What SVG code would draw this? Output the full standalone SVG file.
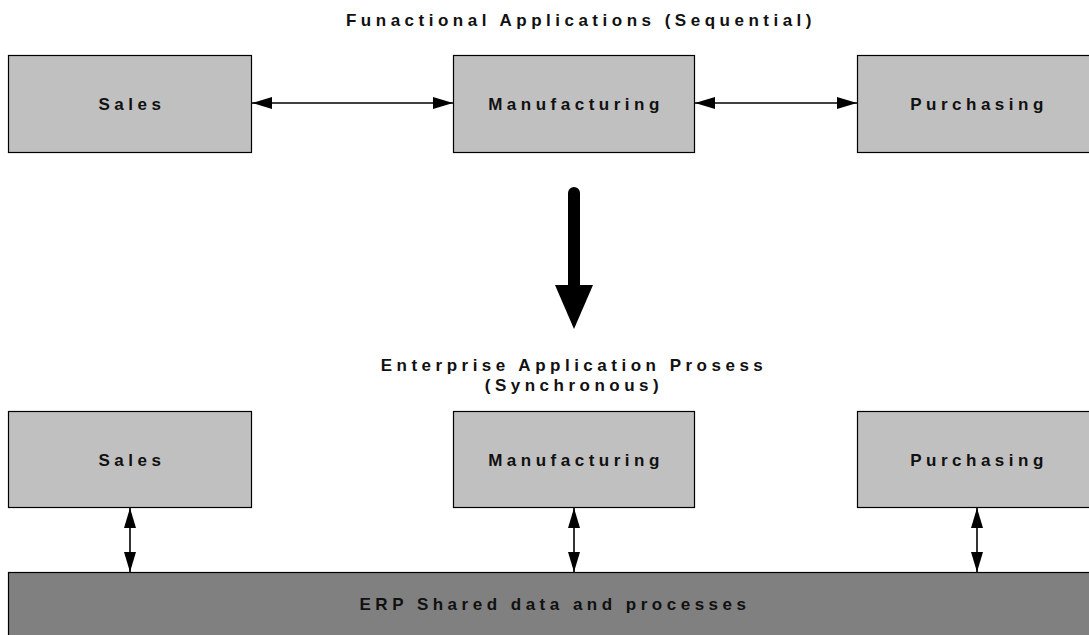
<svg xmlns="http://www.w3.org/2000/svg" width="1089" height="635" viewBox="0 0 1089 635">
<style>
.box{fill:#c0c0c0;stroke:#000;stroke-width:1.2}
.erp{fill:#808080;stroke:#000;stroke-width:1.2}
.lbl{font-family:"Liberation Sans",Arial,sans-serif;font-weight:bold;font-size:17px;letter-spacing:4.5px;fill:#111;text-anchor:middle}
.con{stroke:#000;stroke-width:1.6;fill:none}
</style>
<defs>
<marker id="ah" markerWidth="20" markerHeight="12" refX="20" refY="6" orient="auto-start-reverse" markerUnits="userSpaceOnUse">
<path d="M0,0 L20,6 L0,12 Z" fill="#000"/>
</marker>
</defs>
<rect width="1089" height="635" fill="#fff"/>
<text class="lbl" x="581" y="26">Funactional Applications (Sequential)</text>
<g id="top-sales"><rect class="box" x="8.5" y="55.5" width="243" height="97"/><text class="lbl" x="132" y="110">Sales</text></g>
<g id="top-manufacturing"><rect class="box" x="453.5" y="55.5" width="241" height="97"/><text class="lbl" x="576" y="110">Manufacturing</text></g>
<g id="top-purchasing"><rect class="box" x="857.5" y="55.5" width="245" height="97"/><text class="lbl" x="979" y="110">Purchasing</text></g>
<g id="transition">
<line x1="574" y1="193" x2="574" y2="287" stroke="#000" stroke-width="12" stroke-linecap="round"/>
<path d="M555,285 L593,285 L574,329 Z" fill="#000"/>
</g>
<text class="lbl" x="574" y="371">Enterprise Application Prosess</text>
<text class="lbl" x="574" y="391">(Synchronous)</text>
<g id="bot-sales"><rect class="box" x="8.5" y="411.5" width="243" height="96"/><text class="lbl" x="132" y="466">Sales</text></g>
<g id="bot-manufacturing"><rect class="box" x="453.5" y="411.5" width="241" height="96"/><text class="lbl" x="576" y="466">Manufacturing</text></g>
<g id="bot-purchasing"><rect class="box" x="857.5" y="411.5" width="245" height="96"/><text class="lbl" x="979" y="466">Purchasing</text></g>
<g id="erp"><rect class="erp" x="8.5" y="572.5" width="1095" height="80"/><text class="lbl" x="555" y="610">ERP Shared data and processes</text></g>
<g id="connectors">
<line class="con" x1="252" y1="103" x2="453" y2="103" marker-start="url(#ah)" marker-end="url(#ah)"/>
<line class="con" x1="695" y1="103" x2="857" y2="103" marker-start="url(#ah)" marker-end="url(#ah)"/>
<line class="con" x1="130" y1="508" x2="130" y2="572" marker-start="url(#ah)" marker-end="url(#ah)"/>
<line class="con" x1="574" y1="508" x2="574" y2="572" marker-start="url(#ah)" marker-end="url(#ah)"/>
<line class="con" x1="977" y1="508" x2="977" y2="572" marker-start="url(#ah)" marker-end="url(#ah)"/>
</g>
</svg>
